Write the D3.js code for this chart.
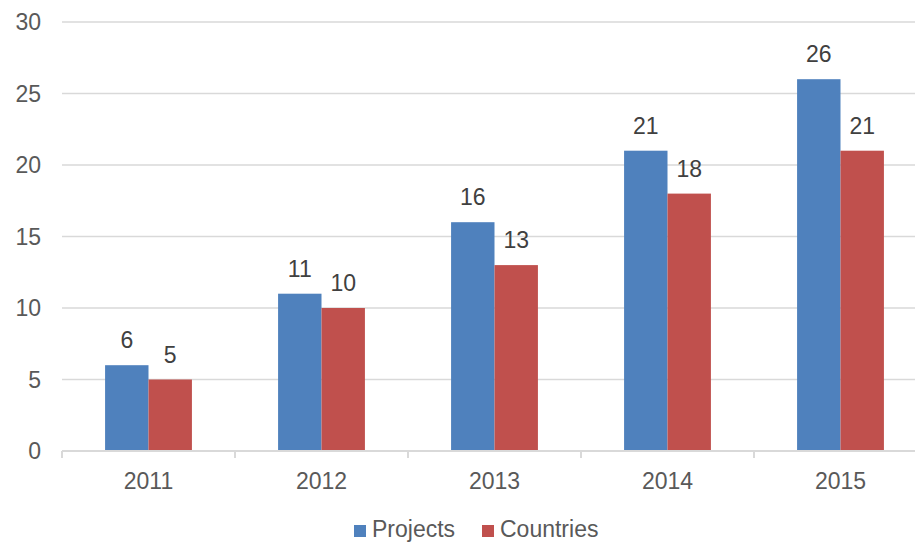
<!DOCTYPE html>
<html>
<head>
<meta charset="utf-8">
<script src="https://cdn.jsdelivr.net/npm/d3@7"></script>
<style>
  body { margin: 0; background: #fff; }
  text { font-family: "Liberation Sans", Arial, sans-serif; }
</style>
</head>
<body>
<div id="chart"></div>
<script>
const years = ["2011", "2012", "2013", "2014", "2015"];
const projects = [6, 11, 16, 21, 26];
const countries = [5, 10, 13, 18, 21];
const seriesNames = ["Projects", "Countries"];
const seriesColors = ["#4F81BD", "#C0504D"];
const yTicks = [0, 5, 10, 15, 20, 25, 30];

document.addEventListener('DOMContentLoaded', function () {
    const W = 915, H = 542;
    const left = 62, right = 927, top = 22, bottom = 451;

    const svg = d3.select("#chart").append("svg")
        .attr("width", W)
        .attr("height", H);

    const x = d3.scaleBand().domain(years).range([left, right]);
    const groupWidth = x.bandwidth() * 0.502;
    const xs = d3.scaleBand().domain(seriesNames)
        .range([(x.bandwidth() - groupWidth) / 2, (x.bandwidth() + groupWidth) / 2]);
    const y = d3.scaleLinear().domain([0, 30]).range([bottom, top]);

    // gridlines
    svg.append("g")
        .selectAll("line")
        .data(yTicks.filter(d => d > 0))
        .enter().append("line")
        .attr("x1", left).attr("x2", W)
        .attr("y1", d => y(d)).attr("y2", d => y(d))
        .attr("stroke", "#D9D9D9").attr("stroke-width", 1.5);

    // y labels
    svg.append("g")
        .selectAll("text")
        .data(yTicks)
        .enter().append("text")
        .attr("x", 41)
        .attr("y", d => y(d))
        .attr("dy", "0.36em")
        .attr("text-anchor", "end")
        .attr("fill", "#595959")
        .style("font-size", "23px")
        .text(d => d);

    // bars
    const data = years.map((yr, i) => ({year: yr, values: [projects[i], countries[i]]}));
    const groups = svg.append("g").selectAll("g")
        .data(data)
        .enter().append("g")
        .attr("transform", d => `translate(${x(d.year)},0)`);

    groups.selectAll("rect")
        .data(d => d.values.map((v, j) => ({name: seriesNames[j], value: v, color: seriesColors[j]})))
        .enter().append("rect")
        .attr("x", d => xs(d.name))
        .attr("width", xs.bandwidth())
        .attr("y", d => y(d.value))
        .attr("height", d => y(0) - y(d.value))
        .attr("fill", d => d.color);

    groups.selectAll("text.val")
        .data(d => d.values.map((v, j) => ({name: seriesNames[j], value: v})))
        .enter().append("text")
        .attr("class", "val")
        .attr("x", d => xs(d.name) + xs.bandwidth() / 2)
        .attr("y", d => y(d.value) - 17)
        .attr("text-anchor", "middle")
        .attr("fill", "#404040")
        .style("font-size", "23px")
        .text(d => d.value);

    // x axis
    svg.append("line")
        .attr("x1", left).attr("x2", W)
        .attr("y1", bottom).attr("y2", bottom)
        .attr("stroke", "#D9D9D9").attr("stroke-width", 2);

    svg.append("g").selectAll("line")
        .data(years.concat(["end"]))
        .enter().append("line")
        .attr("x1", (d, i) => left + i * x.step())
        .attr("x2", (d, i) => left + i * x.step())
        .attr("y1", bottom).attr("y2", bottom + 7)
        .attr("stroke", "#D9D9D9").attr("stroke-width", 2);

    svg.append("g").selectAll("text")
        .data(years)
        .enter().append("text")
        .attr("x", d => x(d) + x.bandwidth() / 2)
        .attr("y", 489)
        .attr("text-anchor", "middle")
        .attr("fill", "#595959")
        .style("font-size", "23px")
        .text(d => d);

    // legend
    const legendX = [354, 482];
    const legendItem = svg.append("g").selectAll("g")
        .data(seriesNames)
        .enter().append("g")
        .attr("transform", (d, i) => `translate(${legendX[i]},0)`);

    legendItem.append("rect")
        .attr("x", 0).attr("y", 525)
        .attr("width", 12).attr("height", 12)
        .attr("fill", (d, i) => seriesColors[i]);

    legendItem.append("text")
        .attr("x", 18).attr("y", 537)
        .attr("fill", "#595959")
        .style("font-size", "23px")
        .text(d => d);
});
</script>
</body>
</html>
